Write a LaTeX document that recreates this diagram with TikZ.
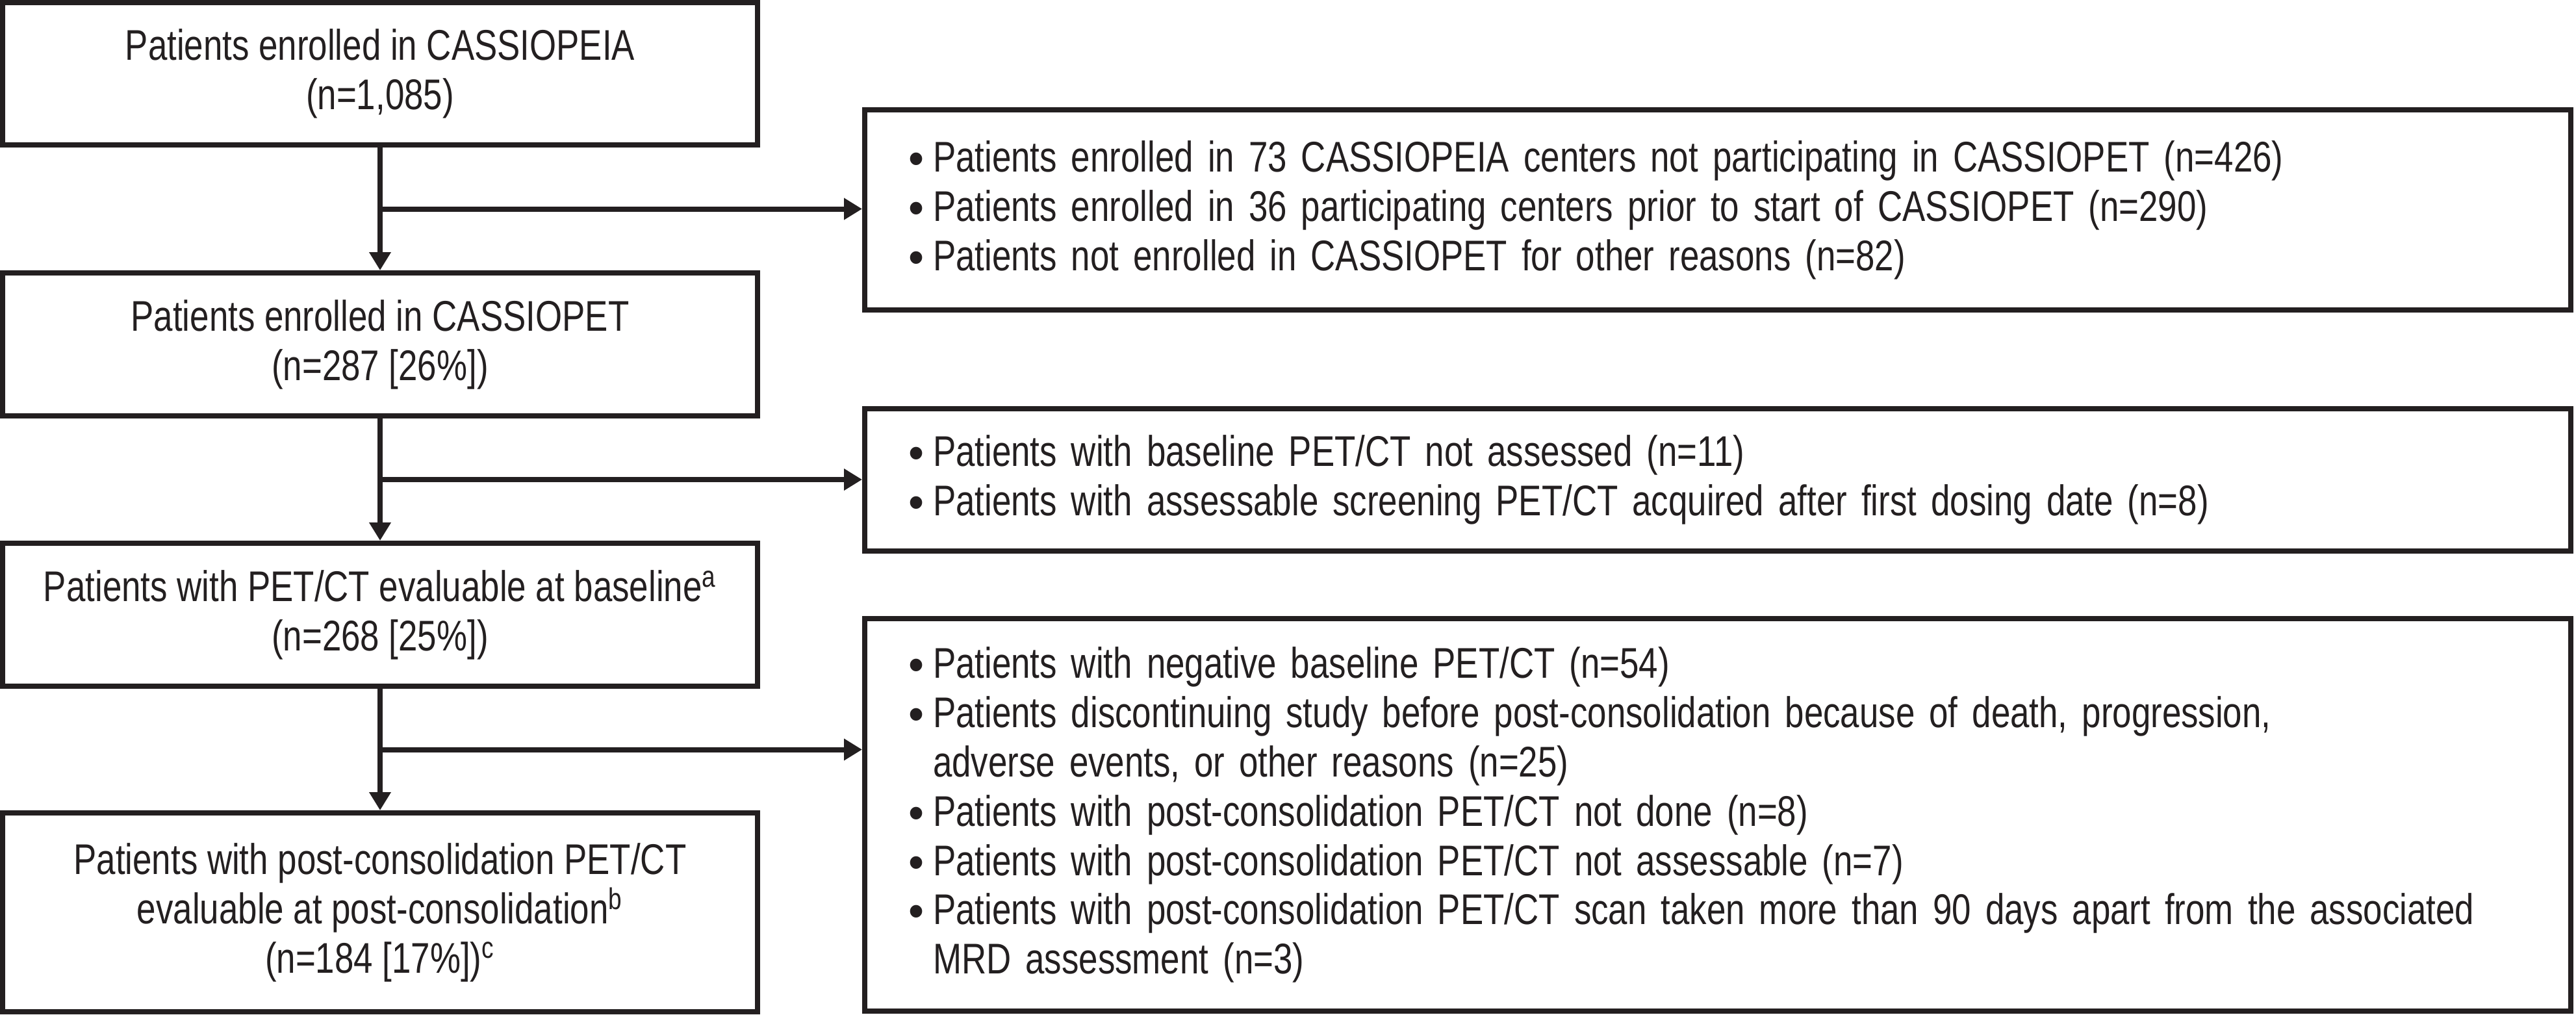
\documentclass[tikz,border=0pt]{standalone}
\usepackage{fontspec}
\setmainfont{Liberation Sans}[FakeStretch=0.8]
\usetikzlibrary{arrows.meta,calc}
\definecolor{ink}{HTML}{231F20}
\newcommand\bul{\makebox[0.38cm][l]{\raisebox{-0.04cm}{\scalebox{1.3}[1.08]{\textbullet}}}}
\newcommand\ind{\hspace*{0.38cm}}
\begin{document}
\begin{tikzpicture}[
  font=\fontsize{18.8}{21.6}\selectfont,
  every node/.style={text=ink},
  box/.style={draw=ink, line width=0.08cm, inner sep=0pt, align=center},
  lbox/.style={box, minimum width=11.62cm},
  rbox/.style={box, minimum width=26.26cm, text width=24.92cm, align=left},
  conn/.style={draw=ink, line width=0.08cm},
  arr/.style={conn, -{Triangle[length=0.28cm,width=0.32cm]}}
]
\useasboundingbox (0,0) rectangle (39.65,-15.61);

\node[lbox, minimum height=2.19cm] (b1) at (5.85,-1.135)
  {Patients enrolled in CASSIOPEIA\\(n=1,085)};
\node[lbox, minimum height=2.20cm] (b2) at (5.85,-5.30)
  {Patients enrolled in CASSIOPET\\(n=287 [26\%])};
\node[lbox, minimum height=2.20cm] (b3) at (5.85,-9.46)
  {Patients with PET/CT evaluable at baseline\textsuperscript{a}\\(n=268 [25\%])};
\node[lbox, minimum height=3.06cm] (b4) at (5.85,-14.04)
  {Patients with post-consolidation PET/CT\\evaluable at post-consolidation\textsuperscript{b}\\(n=184 [17\%])\textsuperscript{c}};

\node[rbox, minimum height=3.08cm] (r1) at (26.44,-3.23)
  {\bul Patients enrolled in 73 CASSIOPEIA centers not participating in CASSIOPET (n=426)\\
   \bul Patients enrolled in 36 participating centers prior to start of CASSIOPET (n=290)\\
   \bul Patients not enrolled in CASSIOPET for other reasons (n=82)};
\node[rbox, minimum height=2.19cm] (r2) at (26.44,-7.385)
  {\bul Patients with baseline PET/CT not assessed (n=11)\\
   \bul Patients with assessable screening PET/CT acquired after first dosing date (n=8)};
\node[rbox, minimum height=6.04cm] (r3) at (26.44,-12.54)
  {\bul Patients with negative baseline PET/CT (n=54)\\
   \bul Patients discontinuing study before post-consolidation because of death, progression,\\
   \ind adverse events, or other reasons (n=25)\\
   \bul Patients with post-consolidation PET/CT not done (n=8)\\
   \bul Patients with post-consolidation PET/CT not assessable (n=7)\\
   \bul Patients with post-consolidation PET/CT scan taken more than 90 days apart from the associated\\
   \ind MRD assessment (n=3)};

\coordinate (m1) at ($(b1.south)!0.5!(b2.north)$);
\coordinate (m2) at ($(b2.south)!0.5!(b3.north)$);
\coordinate (m3) at ($(b3.south)!0.5!(b4.north)$);

\draw[arr] (b1.south) -- (b2.north);
\draw[arr] (b2.south) -- (b3.north);
\draw[arr] (b3.south) -- (b4.north);
\draw[arr] (m1) -- (m1 -| r1.west);
\draw[arr] (m2) -- (m2 -| r2.west);
\draw[arr] (m3) -- (m3 -| r3.west);
\end{tikzpicture}
\end{document}
